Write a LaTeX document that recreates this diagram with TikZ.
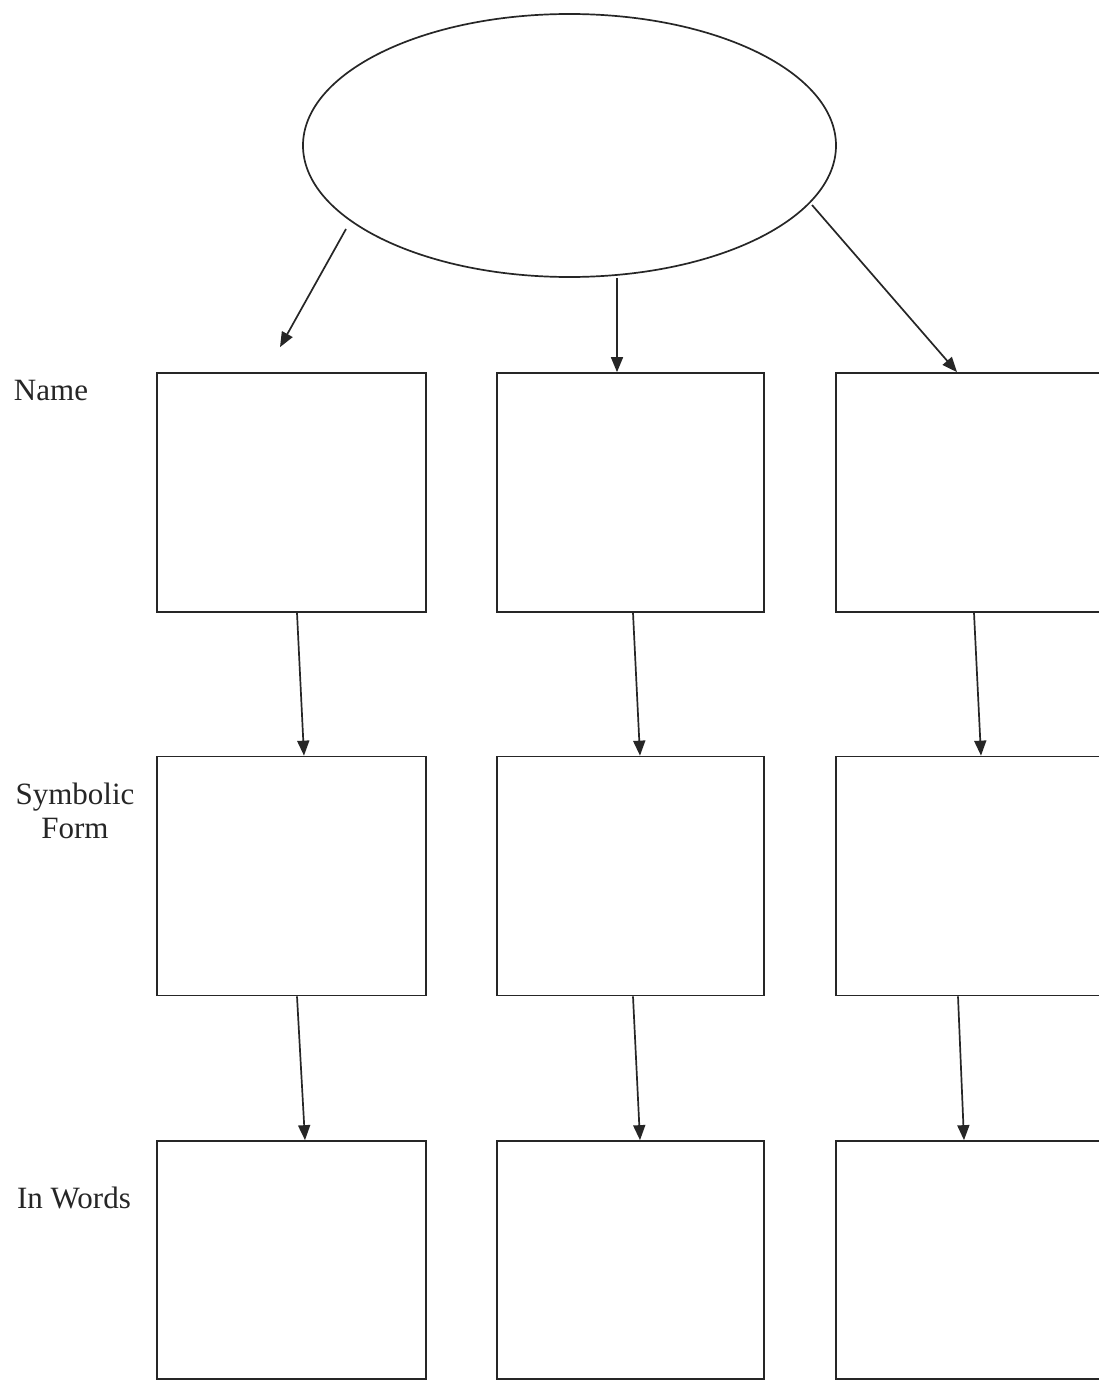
\documentclass[tikz,border=0pt]{standalone}
\usepackage{fontspec}
\setmainfont{Liberation Serif}
\usetikzlibrary{shapes.geometric,arrows.meta}
\begin{document}
\begin{tikzpicture}[x=1pt,y=-1pt,
  line width=1.7pt, draw=black!85,
  cell/.style={draw, rectangle, inner sep=0pt, minimum height=239pt},
  arr/.style={draw, -{Triangle[length=15pt,width=12pt]}},
  lbl/.style={font=\fontsize{31}{34}\selectfont, text=black!85, align=center, inner sep=0pt}]
\useasboundingbox (0,0) rectangle (1098,1381);
\fill[white] (0,0) rectangle (1098,1381);
% top ellipse
\node[draw, ellipse, inner sep=0pt, minimum width=533pt, minimum height=263pt] (ell) at (569.5,145.5) {};
% boxes
\node[cell, minimum width=269pt] (b11) at (291.5,492.5) {};
\node[cell, minimum width=267pt] (b12) at (630.5,492.5) {};
\node[cell, minimum width=266pt] (b13) at (969,492.5) {};
\node[cell, minimum width=269pt] (b21) at (291.5,876) {};
\node[cell, minimum width=267pt] (b22) at (630.5,876) {};
\node[cell, minimum width=266pt] (b23) at (969,876) {};
\node[cell, minimum width=269pt, minimum height=238pt] (b31) at (291.5,1260) {};
\node[cell, minimum width=267pt, minimum height=238pt] (b32) at (630.5,1260) {};
\node[cell, minimum width=266pt, minimum height=238pt] (b33) at (969,1260) {};
% labels
\node[lbl] (lname) at (51,390) {Name};
\node[lbl] (lsym) at (75,811) {Symbolic\\Form};
\node[lbl] (lwords) at (74,1198) {In Words};
% arrows from ellipse
\draw[arr] ([xshift=-223.5pt,yshift=-83.5pt]ell.center) -- ([xshift=-11.5pt,yshift=25pt]b11.north);
\draw[arr] ([xshift=47.5pt]ell.south) -- ([xshift=-13.5pt]b12.north);
\draw[arr] ([xshift=242.5pt,yshift=-59.5pt]ell.center) -- ([xshift=-12pt]b13.north);
% row 1 to row 2
\draw[arr] ([xshift=5.5pt]b11.south) -- ([xshift=12.5pt]b21.north);
\draw[arr] ([xshift=2.5pt]b12.south) -- ([xshift=9.5pt]b22.north);
\draw[arr] ([xshift=5pt]b13.south) -- ([xshift=12pt]b23.north);
% row 2 to row 3
\draw[arr] ([xshift=5.5pt]b21.south) -- ([xshift=13.5pt]b31.north);
\draw[arr] ([xshift=2.5pt]b22.south) -- ([xshift=9.5pt]b32.north);
\draw[arr] ([xshift=-11pt]b23.south) -- ([xshift=-5pt]b33.north);
\end{tikzpicture}
\end{document}
